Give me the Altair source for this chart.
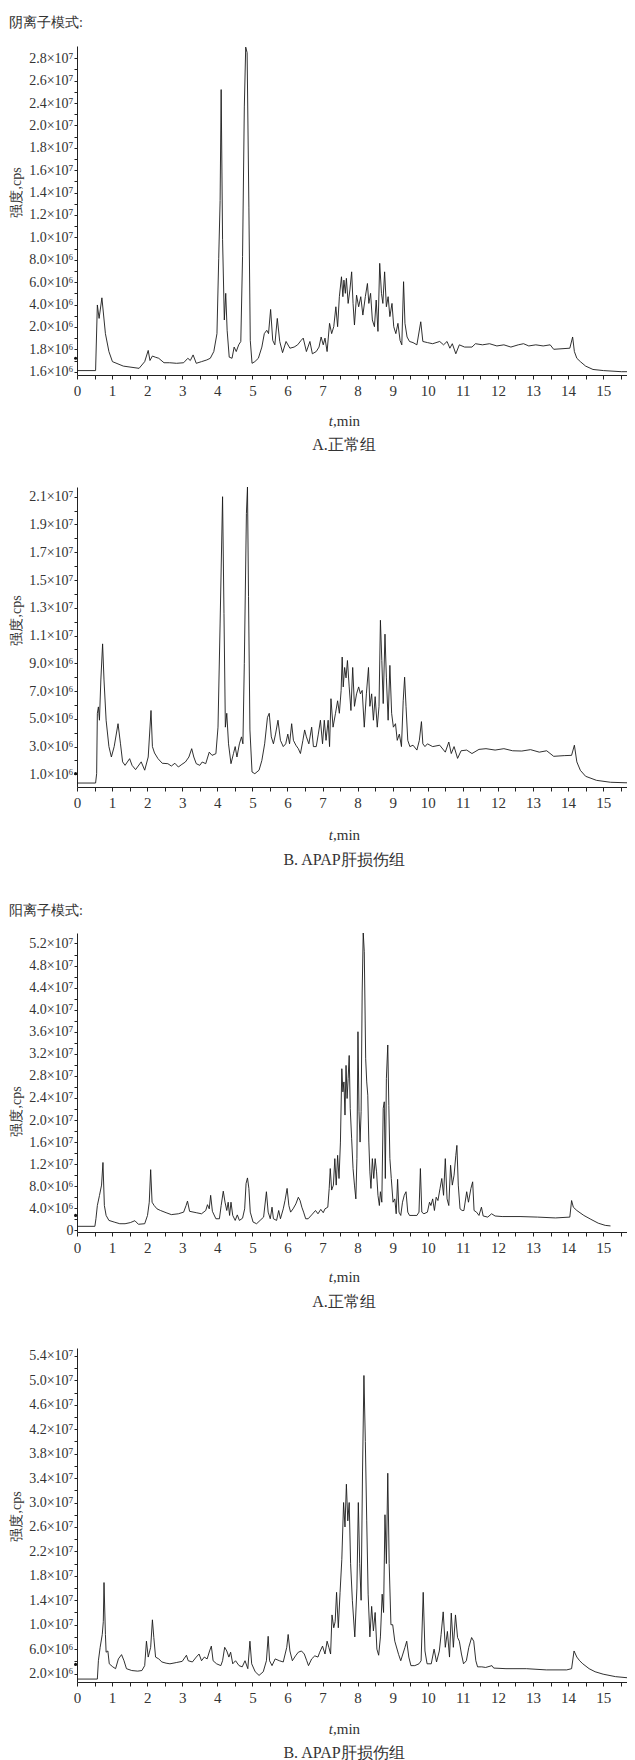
import json
import altair as alt
import pandas as pd

# ---------------- data: (retention time min, intensity in 10^6 cps) ----------------
NEG_A = [(0.00,1.61),(0.53,1.61),(0.58,3.96),(0.63,2.76),(0.71,4.60),(0.81,1.94),(0.91,1.78),(1.01,1.69),
 (1.32,1.65),(1.77,1.63),(1.93,1.69),(2.03,1.79),(2.08,1.70),(2.15,1.74),(2.23,1.73),(2.33,1.72),(2.48,1.68),
 (2.64,1.68),(2.84,1.675),(3.04,1.68),(3.16,1.72),(3.23,1.70),(3.31,1.75),(3.40,1.675),(3.55,1.69),(3.70,1.705),
 (3.80,1.72),(3.90,1.78),(3.99,1.94),(4.04,8.1),(4.08,13.3),(4.11,25.2),(4.15,9.8),(4.20,2.62),(4.24,5.0),
 (4.28,1.97),(4.34,1.73),(4.42,1.72),(4.48,1.82),(4.54,1.78),(4.61,1.84),(4.67,1.87),(4.72,8.3),(4.77,23.3),
 (4.81,29.0),(4.85,28.5),(4.90,12.7),(4.94,1.88),(4.99,1.675),(5.07,1.69),(5.17,1.72),(5.27,1.82),(5.34,1.94),
 (5.41,1.97),(5.46,1.94),(5.52,3.56),(5.58,1.88),(5.64,1.84),(5.71,2.76),(5.78,1.87),(5.86,1.77),(5.96,1.87),
 (6.07,1.81),(6.19,1.82),(6.29,1.84),(6.39,1.88),(6.45,1.90),(6.54,1.78),(6.64,1.87),(6.71,1.76),(6.82,1.78),
 (6.90,1.82),(6.96,1.91),(7.02,1.84),(7.07,1.90),(7.13,1.78),(7.20,2.32),(7.26,1.94),(7.32,2.02),(7.38,3.8),
 (7.43,2.02),(7.48,4.7),(7.54,6.48),(7.58,4.7),(7.61,6.18),(7.65,5.0),(7.68,6.34),(7.73,4.1),(7.78,5.3),
 (7.83,6.92),(7.87,4.1),(7.91,2.17),(7.97,4.84),(8.03,3.8),(8.09,4.7),(8.15,3.06),(8.22,4.7),(8.28,5.88),
 (8.32,4.1),(8.37,5.0),(8.42,2.62),(8.48,2.02),(8.53,4.4),(8.58,1.96),(8.63,7.68),(8.68,5.0),(8.72,4.1),
 (8.77,6.92),(8.82,3.8),(8.87,4.7),(8.92,2.92),(8.98,4.1),(9.03,2.02),(9.09,1.94),(9.15,2.32),(9.21,1.88),
 (9.26,1.84),(9.31,6.04),(9.35,2.32),(9.41,1.91),(9.48,1.87),(9.58,1.86),(9.69,1.84),(9.80,2.46),(9.86,1.87),
 (9.99,1.86),(10.14,1.85),(10.34,1.87),(10.45,1.84),(10.55,1.87),(10.63,1.81),(10.70,1.85),(10.80,1.76),
 (10.90,1.84),(11.05,1.82),(11.26,1.82),(11.36,1.85),(11.56,1.84),(11.76,1.85),(11.97,1.83),(12.17,1.84),
 (12.37,1.82),(12.58,1.84),(12.73,1.85),(12.88,1.83),(13.08,1.84),(13.29,1.83),(13.49,1.84),(13.59,1.80),
 (14.05,1.81),(14.13,1.91),(14.18,1.78),(14.25,1.72),(14.35,1.69),(14.50,1.65),(14.71,1.62),(15.01,1.61),
 (15.52,1.60),(15.90,1.60)]

NEG_B = [(0.00,0.375),(0.53,0.375),(0.56,1.05),(0.58,5.4),(0.61,5.86),(0.64,4.9),(0.68,7.8),(0.73,10.4),
 (0.77,7.8),(0.83,4.9),(0.91,3.0),(0.98,2.25),(1.06,3.0),(1.17,4.65),(1.24,3.2),(1.30,1.9),(1.37,1.65),
 (1.50,2.13),(1.57,1.65),(1.67,1.34),(1.83,1.9),(1.93,1.3),(2.03,2.25),(2.11,5.6),(2.15,3.0),(2.21,2.54),
 (2.31,2.13),(2.43,1.8),(2.59,1.77),(2.69,1.6),(2.79,1.8),(2.89,1.53),(2.99,1.72),(3.09,1.89),(3.19,2.25),
 (3.27,2.85),(3.33,2.25),(3.40,1.77),(3.50,1.65),(3.57,1.89),(3.67,1.77),(3.77,2.6),(3.85,2.37),(3.96,2.49),
 (4.02,4.4),(4.08,11.9),(4.15,21.0),(4.19,12.6),(4.23,4.4),(4.27,5.4),(4.32,3.2),(4.39,1.77),(4.46,2.49),
 (4.51,3.0),(4.56,2.25),(4.63,3.2),(4.69,3.7),(4.73,3.2),(4.77,9.0),(4.83,19.8),(4.86,21.7),(4.89,13.8),
 (4.93,4.2),(4.99,1.17),(5.07,1.05),(5.19,1.3),(5.27,2.0),(5.35,3.2),(5.43,5.1),(5.48,5.4),(5.54,3.7),
 (5.60,3.2),(5.66,3.9),(5.73,4.9),(5.80,3.45),(5.88,3.0),(5.95,3.2),(6.01,3.9),(6.06,3.2),(6.12,4.65),
 (6.17,3.45),(6.24,3.1),(6.31,2.85),(6.37,2.5),(6.44,3.45),(6.49,4.2),(6.54,3.7),(6.61,3.2),(6.69,4.4),
 (6.74,3.0),(6.82,3.0),(6.88,3.9),(6.94,4.9),(7.00,3.2),(7.05,4.9),(7.10,3.45),(7.16,4.9),(7.20,3.0),
 (7.24,6.45),(7.30,4.4),(7.37,5.4),(7.43,6.3),(7.48,5.4),(7.53,7.05),(7.56,9.45),(7.59,7.3),(7.63,8.7),
 (7.67,7.95),(7.71,9.2),(7.76,7.3),(7.81,5.6),(7.86,8.7),(7.91,5.9),(7.97,6.8),(8.03,7.3),(8.08,6.8),
 (8.13,7.05),(8.19,4.4),(8.25,6.8),(8.31,8.7),(8.35,5.9),(8.40,6.8),(8.45,4.9),(8.50,6.6),(8.56,4.4),
 (8.61,5.9),(8.65,12.1),(8.69,9.2),(8.73,6.1),(8.78,11.1),(8.82,7.95),(8.87,4.9),(8.92,8.85),(8.97,5.4),
 (9.02,4.4),(9.08,4.65),(9.13,3.45),(9.19,3.9),(9.25,3.0),(9.30,6.3),(9.34,8.0),(9.38,5.9),(9.43,3.45),
 (9.49,3.0),(9.58,3.1),(9.69,2.75),(9.76,3.45),(9.82,4.8),(9.86,3.2),(9.92,3.0),(9.99,3.2),(10.14,3.0),
 (10.34,3.1),(10.50,2.6),(10.60,3.33),(10.67,2.5),(10.75,3.0),(10.85,2.15),(10.95,2.7),(11.11,2.75),
 (11.26,2.5),(11.46,2.8),(11.66,2.85),(11.92,2.75),(12.17,2.85),(12.42,2.7),(12.68,2.68),(12.93,2.78),
 (13.18,2.6),(13.39,2.7),(13.59,2.3),(13.89,2.35),(14.10,2.37),(14.18,3.1),(14.25,1.9),(14.35,1.29),
 (14.50,0.86),(14.81,0.57),(15.21,0.43),(15.90,0.375)]

POS_A = [(0.00,0.73),(0.51,0.73),(0.54,2.1),(0.58,4.5),(0.64,6.3),(0.70,8.2),(0.74,12.3),(0.78,4.5),
 (0.83,2.7),(0.91,1.8),(1.06,1.5),(1.22,1.2),(1.37,1.2),(1.52,1.4),(1.65,1.75),(1.75,1.1),(1.93,1.2),
 (2.01,2.7),(2.06,5.1),(2.10,11.0),(2.14,5.1),(2.20,4.5),(2.28,3.9),(2.38,3.6),(2.54,3.2),(2.69,2.85),
 (2.89,3.0),(3.04,3.3),(3.11,4.5),(3.15,5.3),(3.21,3.45),(3.40,3.2),(3.55,3.0),(3.67,3.6),(3.72,4.65),
 (3.77,3.9),(3.81,6.35),(3.86,3.45),(3.96,2.1),(4.06,2.1),(4.11,4.5),(4.17,7.1),(4.22,5.1),(4.27,3.6),
 (4.31,5.1),(4.35,2.7),(4.39,5.1),(4.44,2.7),(4.51,1.8),(4.57,2.8),(4.63,1.8),(4.72,2.2),(4.78,3.9),
 (4.82,8.5),(4.86,9.5),(4.90,7.6),(4.94,3.3),(5.02,1.5),(5.12,1.2),(5.22,1.8),(5.32,2.4),(5.40,7.0),
 (5.45,3.3),(5.51,2.1),(5.56,4.2),(5.60,2.1),(5.69,1.8),(5.75,3.6),(5.80,2.1),(5.88,3.9),(5.93,5.4),
 (5.99,7.6),(6.04,4.5),(6.09,3.3),(6.16,3.9),(6.24,4.8),(6.31,6.0),(6.36,5.4),(6.41,4.2),(6.46,3.3),
 (6.52,2.1),(6.59,2.1),(6.69,2.8),(6.80,3.6),(6.87,3.0),(6.95,3.8),(7.02,3.2),(7.07,3.9),(7.15,4.2),
 (7.19,7.6),(7.22,11.2),(7.26,7.3),(7.31,8.2),(7.35,13.0),(7.39,8.2),(7.43,13.6),(7.47,9.4),(7.51,16.0),
 (7.55,29.3),(7.58,25.1),(7.61,26.9),(7.64,20.9),(7.67,29.9),(7.70,23.9),(7.73,27.5),(7.76,31.7),
 (7.79,22.1),(7.83,16.6),(7.87,11.2),(7.91,8.2),(7.95,5.7),(7.98,13.0),(8.01,36.0),(8.04,21.5),
 (8.07,16.0),(8.10,21.5),(8.13,43.2),(8.16,54.0),(8.19,50.5),(8.23,31.1),(8.26,26.9),(8.29,24.5),
 (8.32,16.0),(8.35,10.6),(8.38,7.6),(8.42,13.0),(8.46,9.4),(8.50,13.0),(8.54,10.6),(8.58,6.35),(8.62,4.5),
 (8.65,7.0),(8.69,5.1),(8.73,22.1),(8.76,23.3),(8.79,9.4),(8.82,27.5),(8.86,33.6),(8.89,22.6),(8.92,13.0),
 (8.96,9.4),(9.01,5.1),(9.06,5.7),(9.10,3.0),(9.14,9.25),(9.18,3.3),(9.23,2.7),(9.28,5.1),(9.33,6.35),
 (9.38,7.0),(9.43,3.3),(9.48,2.7),(9.58,2.7),(9.69,2.7),(9.75,3.3),(9.79,11.2),(9.83,3.3),(9.89,3.0),
 (9.99,3.3),(10.05,5.1),(10.09,4.5),(10.14,5.7),(10.19,3.6),(10.24,6.0),(10.29,5.4),(10.35,7.6),(10.40,9.4),
 (10.45,6.35),(10.50,13.0),(10.55,5.7),(10.60,4.5),(10.65,11.8),(10.70,8.2),(10.75,10.0),(10.80,13.6),
 (10.83,15.4),(10.87,8.2),(10.92,3.9),(10.98,3.6),(11.03,3.6),(11.11,7.0),(11.16,5.1),(11.23,7.6),
 (11.28,8.8),(11.32,3.6),(11.39,3.3),(11.46,2.7),(11.53,4.2),(11.58,2.6),(11.71,2.4),(11.82,3.0),
 (11.92,2.6),(12.12,2.5),(12.63,2.5),(13.13,2.4),(13.64,2.25),(14.05,2.4),(14.10,5.4),(14.15,4.2),
 (14.25,3.6),(14.45,2.7),(14.65,2.0),(14.86,1.3),(15.06,0.9),(15.21,0.8)]

POS_B = [(0.00,1.1),(0.58,1.1),(0.61,4.1),(0.66,6.3),(0.72,8.4),(0.75,10.5),(0.77,16.9),(0.81,8.4),
 (0.83,5.5),(0.88,5.7),(0.92,3.6),(1.02,3.1),(1.10,2.8),(1.18,4.4),(1.27,5.1),(1.34,4.1),(1.41,2.8),
 (1.56,2.5),(1.73,2.4),(1.85,2.5),(1.93,3.3),(1.98,7.3),(2.03,4.7),(2.10,6.3),(2.15,10.8),(2.19,7.9),
 (2.24,4.7),(2.33,4.4),(2.42,3.9),(2.54,3.7),(2.65,3.6),(2.83,3.8),(3.00,4.0),(3.12,5.0),(3.17,4.1),
 (3.29,3.9),(3.40,4.7),(3.48,5.2),(3.55,4.1),(3.63,4.7),(3.71,4.4),(3.78,5.7),(3.83,6.5),(3.88,4.1),
 (3.98,3.6),(4.10,3.3),(4.15,4.1),(4.21,6.3),(4.27,5.7),(4.33,4.7),(4.38,5.5),(4.44,3.6),(4.52,4.1),
 (4.62,3.3),(4.71,3.1),(4.79,4.1),(4.87,2.8),(4.93,7.3),(4.98,3.6),(5.08,2.3),(5.19,1.7),(5.31,2.3),
 (5.40,4.1),(5.45,8.1),(5.49,4.1),(5.56,3.3),(5.65,4.4),(5.77,4.1),(5.88,3.9),(5.98,6.3),(6.02,8.4),
 (6.07,5.7),(6.14,4.1),(6.23,4.9),(6.31,5.5),(6.40,5.7),(6.48,5.2),(6.55,4.1),(6.60,3.3),(6.69,4.4),
 (6.78,4.9),(6.87,4.7),(6.92,5.5),(7.00,6.5),(7.07,5.2),(7.13,7.3),(7.18,6.3),(7.23,5.2),(7.27,11.6),
 (7.32,9.5),(7.36,10.5),(7.40,15.3),(7.45,9.5),(7.50,15.3),(7.55,20.7),(7.60,30.0),(7.64,26.0),
 (7.68,33.0),(7.72,27.0),(7.76,30.0),(7.80,20.0),(7.85,14.0),(7.92,8.0),(7.98,16.0),(8.02,30.0),
 (8.06,20.0),(8.10,14.0),(8.14,35.0),(8.18,50.8),(8.22,40.0),(8.26,27.0),(8.30,15.0),(8.35,8.0),
 (8.40,13.0),(8.45,9.0),(8.50,12.0),(8.55,6.0),(8.60,5.0),(8.65,8.0),(8.70,15.0),(8.74,12.0),(8.78,28.0),
 (8.82,20.0),(8.86,34.8),(8.90,20.0),(8.95,10.0),(9.00,10.0),(9.06,7.3),(9.17,5.1),(9.23,4.1),(9.35,6.3),
 (9.40,7.3),(9.46,4.7),(9.52,3.3),(9.63,3.3),(9.75,3.6),(9.81,4.1),(9.87,15.3),(9.92,5.7),(9.98,3.6),
 (10.10,3.6),(10.18,6.0),(10.25,3.9),(10.33,5.7),(10.38,8.4),(10.44,12.1),(10.50,6.3),(10.56,8.9),
 (10.62,4.7),(10.67,11.9),(10.73,6.3),(10.79,11.6),(10.85,7.9),(10.90,7.3),(10.96,5.2),(11.02,3.6),
 (11.10,4.1),(11.17,6.3),(11.25,7.9),(11.31,7.3),(11.37,4.1),(11.42,3.1),(11.54,3.1),(11.65,3.0),
 (11.83,3.3),(11.88,2.9),(12.23,2.8),(12.81,2.8),(13.38,2.6),(13.96,2.6),(14.10,2.8),(14.17,5.7),
 (14.25,4.7),(14.33,4.1),(14.42,3.6),(14.60,2.8),(14.77,2.3),(15.00,1.9),(15.35,1.5),(15.90,1.2)]

# small marker dots printed at the left of each y axis (10^6 cps)
MARK_NEG_A = 1.72
MARK_NEG_B = 1.05
MARK_POS_A = 2.7
MARK_POS_B = 3.5

# y tick labels (10^6 cps) of each panel, as printed in the source figure
NEG_A_TICKS = [1.6, 1.8, 2.0, 4.0, 6.0, 8.0, 10, 12, 14, 16, 18, 20, 24, 26, 28]
NEG_B_TICKS = [1, 3, 5, 7, 9, 11, 13, 15, 17, 19, 21]
POS_A_TICKS = [0, 4, 8, 12, 16, 20, 24, 28, 32, 36, 40, 44, 48, 52]
POS_B_TICKS = [2, 6, 10, 14, 18, 22, 26, 30, 34, 38, 42, 46, 50, 54]
X_TICKS = [i * 0.5 for i in range(32)]

MODE_NEG = "阴离子模式:"
MODE_POS = "阳离子模式:"
CAP_A = "A.正常组"
CAP_B = "B. APAP肝损伤组"

# ---------------- style ----------------
SERIF = "Liberation Serif"
TXT = "#333333"
AXC = "#222222"
W = 550
X_DOM = [0, 15.68]


def ylab_expr(majors):
    arr = json.dumps(majors)
    return ("indexof(" + arr + ", datum.value) < 0 ? '' : datum.value == 0 ? '0' : "
            "datum.value >= 10 ? format(datum.value / 10, '.1f') + '×10⁷' : "
            "format(datum.value, '.1f') + '×10⁶'")


def mids(ticks):
    return [(a + b) / 2 for a, b in zip(ticks[:-1], ticks[1:])]


def one(**kw):
    return pd.DataFrame({k: [v] for k, v in kw.items()})


def panel(pts, majors, yscale, h, pad_top, pad_bot, title_y, caption, tmin_dy, cap_dy,
          marker, mode=None, mode_dy=-23):
    df = pd.DataFrame(pts, columns=["t", "v"])
    x_enc = alt.X("t:Q", scale=alt.Scale(domain=X_DOM, nice=False, zero=False),
                  axis=alt.Axis(values=X_TICKS, title=None, grid=False,
                                labelExpr="datum.value % 1 == 0 ? format(datum.value, 'd') : ''",
                                tickSize=4, tickColor=AXC, domainColor=AXC, labelPadding=4,
                                labelFont=SERIF, labelFontSize=15, labelColor=TXT,
                                labelFlush=False, labelOverlap=False))
    yvals = sorted(majors + mids(majors))
    y_enc = alt.Y("v:Q", scale=yscale,
                  axis=alt.Axis(values=yvals, labelExpr=ylab_expr(majors), grid=False,
                                tickSize=3, tickColor=AXC, domainColor=AXC, labelPadding=1,
                                labelFont=SERIF, labelFontSize=14, labelColor=TXT,
                                labelOverlap=False, labelFlush=False,
                                title="强度,cps", titleFont=SERIF, titleFontSize=14,
                                titleFontWeight="normal", titleColor=TXT,
                                titleX=-54, titleY=title_y, titleAngle=-90,
                                titleBaseline="bottom", titleAlign="center"))
    line = alt.Chart(df).mark_line(color="#1a1a1a", strokeWidth=0.9, clip=True).encode(
        x=x_enc, y=y_enc)
    layers = [line]
    layers.append(alt.Chart(pd.DataFrame({"t": [-0.04], "v": [marker]})).mark_circle(
        size=10, color="#111111", opacity=1).encode(x=x_enc, y=y_enc))
    layers.append(alt.Chart(one(s="t")).mark_text(
        font=SERIF, fontStyle="italic", fontSize=15, color=TXT,
        align="right", baseline="middle").encode(
        x=alt.value(256), y=alt.value(h + tmin_dy), text="s:N"))
    layers.append(alt.Chart(one(s=",min")).mark_text(
        font=SERIF, fontSize=15, color=TXT, align="left", baseline="middle").encode(
        x=alt.value(256), y=alt.value(h + tmin_dy), text="s:N"))
    layers.append(alt.Chart(one(s=caption)).mark_text(
        font=SERIF, fontSize=16, color=TXT, align="center", baseline="middle").encode(
        x=alt.value(267), y=alt.value(h + cap_dy), text="s:N"))
    if mode:
        layers.append(alt.Chart(one(s=mode)).mark_text(
            font=SERIF, fontSize=14, color=TXT, align="left", baseline="middle").encode(
            x=alt.value(-68), y=alt.value(mode_dy), text="s:N"))
    layers.append(alt.Chart(one(k=0)).mark_rule(opacity=0, strokeOpacity=0).encode(
        x=alt.value(-69), y=alt.value(-pad_top), y2=alt.value(h + pad_bot)))
    return alt.layer(*layers).properties(width=W, height=h)


# panel A (negative): the printed tick labels are unevenly spaced in value but evenly spaced on paper
H1 = 329
step1 = 22.39
pos1 = [H1 - 3.3 - step1 * k for k in range(len(NEG_A_TICKS))]
scale1 = alt.Scale(domain=[1.57] + NEG_A_TICKS + [29.1], range=[H1] + pos1 + [0],
                   zero=False, nice=False)

p1 = panel(NEG_A, NEG_A_TICKS, scale1, H1, 38, 85, 146, CAP_A, 46, 70, MARK_NEG_A,
           mode=MODE_NEG, mode_dy=-23)
p2 = panel(NEG_B, NEG_B_TICKS, alt.Scale(domain=[0.09, 21.7], zero=False, nice=False),
           300, 27, 106, 133, CAP_B, 48, 73, MARK_NEG_B)
p3 = panel(POS_A, POS_A_TICKS, alt.Scale(domain=[-0.3, 53.9], zero=False, nice=False),
           299, 40, 85, 178, CAP_A, 45, 70, MARK_POS_A, mode=MODE_POS, mode_dy=-22)
p4 = panel(POS_B, POS_B_TICKS, alt.Scale(domain=[0.62, 55.3], zero=False, nice=False),
           334, 31, 72, 168, CAP_B, 47, 71, MARK_POS_B)

chart = alt.vconcat(p1, p2, p3, p4, spacing=0, padding=0).configure_view(stroke=None)

chart.save("out.html", embed_options={"renderer": "svg", "actions": False})
